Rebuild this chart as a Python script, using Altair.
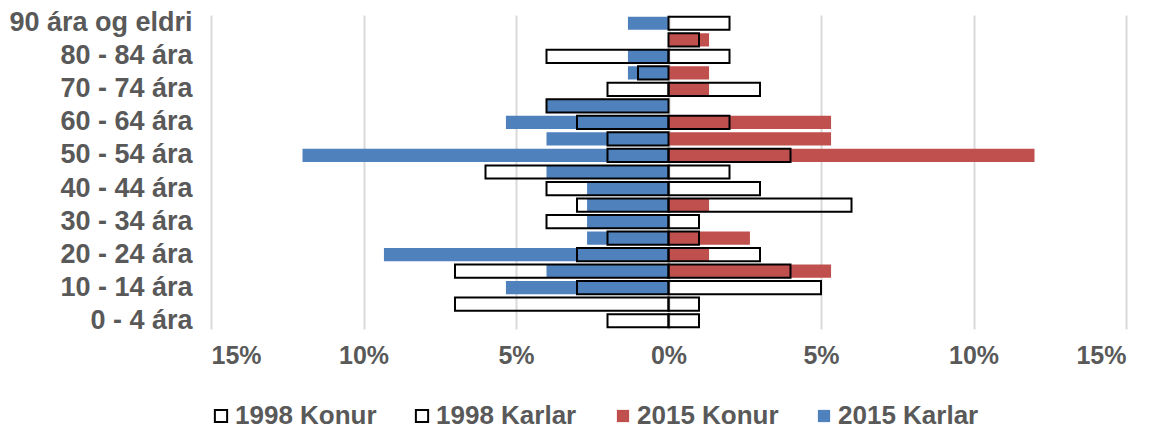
import altair as alt
import pandas as pd

ages = ["90 ára og eldri", "85 - 89 ára", "80 - 84 ára", "75 - 79 ára", "70 - 74 ára",
        "65 - 69 ára", "60 - 64 ára", "55 - 59 ára", "50 - 54 ára", "45 - 49 ára",
        "40 - 44 ára", "35 - 39 ára", "30 - 34 ára", "25 - 29 ára", "20 - 24 ára",
        "15 - 19 ára", "10 - 14 ára", "5 - 9 ára", "0 - 4 ára"]
shown_labels = ages[::2]

karlar_2015 = [1.33, 0, 1.33, 1.33, 0, 4.0, 5.33, 4.0, 12.0, 4.0, 2.67, 2.67, 2.67, 2.67, 9.33, 4.0, 5.33, 0, 0]
konur_2015 = [0, 1.33, 0, 1.33, 1.33, 0, 5.33, 5.33, 12.0, 0, 0, 1.33, 0, 2.67, 1.33, 5.33, 0, 0, 0]
karlar_1998 = [0, 0, 4, 1, 2, 4, 3, 2, 2, 6, 4, 3, 4, 2, 3, 7, 3, 7, 2]
konur_1998 = [2, 1, 2, 0, 3, 0, 2, 0, 4, 2, 3, 6, 1, 1, 3, 4, 5, 1, 1]

series_order = ["1998 Konur", "1998 Karlar", "2015 Konur", "2015 Karlar"]
fill_colors = ["transparent", "transparent", "#c0504d", "#4f81bd"]
stroke_colors = ["#000000", "#000000", "transparent", "transparent"]

rows = []
for name, vals, sign, year in [("2015 Karlar", karlar_2015, -1, 2015),
                               ("2015 Konur", konur_2015, 1, 2015),
                               ("1998 Karlar", karlar_1998, -1, 1998),
                               ("1998 Konur", konur_1998, 1, 1998)]:
    for a, v in zip(ages, vals):
        if v > 0:
            rows.append({"age": a, "value": sign * v, "series": name, "year": year})
df = pd.DataFrame(rows)

FONT = "Liberation Sans"
GREY = "#595959"


def make_legend():
    return alt.Legend(title=None, orient="none", legendX=-3, legendY=388,
                      direction="horizontal", symbolType="square",
                      symbolSize=150, symbolStrokeWidth=2,
                      labelFont=FONT, labelFontSize=26, labelFontWeight="bold",
                      labelColor=GREY, labelOffset=1, columnPadding=32,
                      gridAlign="all", labelLimit=300)


enc = dict(
    x=alt.X("value:Q",
            scale=alt.Scale(domain=[-15, 15], nice=False),
            axis=alt.Axis(values=[-15, -10, -5, 0, 5, 10, 15],
                          labelExpr="abs(datum.value) + '%'",
                          title=None, domain=False, ticks=False,
                          grid=True, gridColor="#d9d9d9", gridWidth=2,
                          labelFont=FONT, labelFontSize=25, labelFontWeight="bold",
                          labelColor=GREY, labelPadding=14)),
    y=alt.Y("age:N", sort=ages,
            scale=alt.Scale(domain=ages, paddingInner=0.2, paddingOuter=0.1),
            axis=alt.Axis(values=shown_labels, title=None, domain=False, ticks=False,
                          labelFont=FONT, labelFontSize=27, labelFontWeight="bold",
                          labelColor=GREY, labelPadding=19, labelLimit=400)),
    fill=alt.Fill("series:N", scale=alt.Scale(domain=series_order, range=fill_colors),
                  legend=make_legend()),
    stroke=alt.Stroke("series:N", scale=alt.Scale(domain=series_order, range=stroke_colors),
                      legend=make_legend()),
)

base = alt.Chart(df).mark_bar(strokeWidth=2).encode(**enc)
layer2015 = base.transform_filter(alt.datum.year == 2015)
layer1998 = base.transform_filter(alt.datum.year == 1998)

chart = alt.layer(layer2015, layer1998).properties(
    width=915, height=314,
    padding={"left": 0, "top": 0, "right": 5, "bottom": 5}
).configure_view(stroke=None)

chart.save("out.html", embed_options={"renderer": "svg", "actions": False})
